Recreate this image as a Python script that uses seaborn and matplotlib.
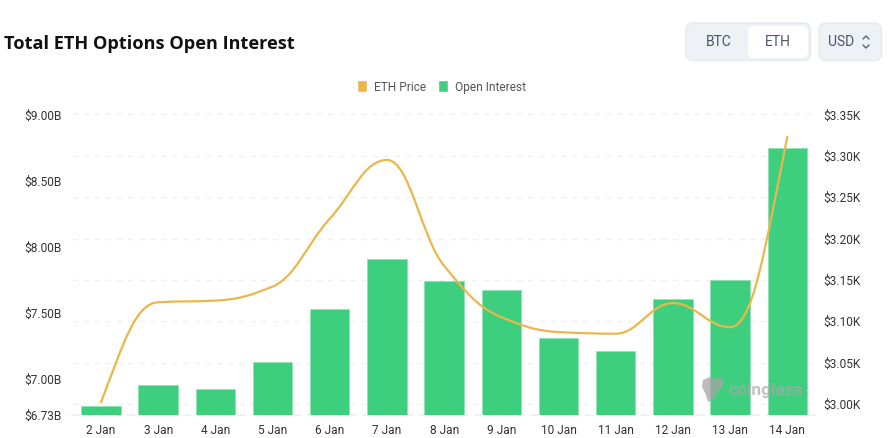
import numpy as np
import pandas as pd
import matplotlib
matplotlib.use("Agg")
import matplotlib.pyplot as plt
import seaborn as sns
from matplotlib.lines import Line2D
from matplotlib.patches import FancyBboxPatch, PathPatch, Patch, Polygon
from matplotlib.path import Path
from matplotlib.transforms import Affine2D, ScaledTranslation

dates = ["2 Jan", "3 Jan", "4 Jan", "5 Jan", "6 Jan", "7 Jan", "8 Jan",
         "9 Jan", "10 Jan", "11 Jan", "12 Jan", "13 Jan", "14 Jan"]
open_interest = [6.798, 6.957, 6.926, 7.127, 7.534, 7.908, 7.746,
                 7.674, 7.312, 7.217, 7.610, 7.753, 8.747]
eth_price = [3.002, 3.123, 3.125, 3.142, 3.224, 3.295, 3.167,
             3.105, 3.087, 3.085, 3.122, 3.093, 3.323]
left_ticks = [6.73, 7.0, 7.5, 8.0, 8.5, 9.0]
left_labels = ["$6.73B", "$7.00B", "$7.50B", "$8.00B", "$8.50B", "$9.00B"]
right_ticks = [3.00, 3.05, 3.10, 3.15, 3.20, 3.25, 3.30, 3.35]
right_labels = ["$3.00K", "$3.05K", "$3.10K", "$3.15K", "$3.20K", "$3.25K", "$3.30K", "$3.35K"]

GREEN = "#3ecf7e"
GOLD = "#ebb64b"
GRID = "#f0f0f0"
W, H = 889, 439

sns.set_theme(style="white")
plt.rcParams["font.family"] = ["Roboto", "DejaVu Sans"]

fig = plt.figure(figsize=(W / 100, H / 100), dpi=100)
ax = fig.add_axes([72.4 / W, (H - 416) / H, 743.5 / W, 300.5 / H])

df = pd.DataFrame({"date": dates, "oi": open_interest})
sns.barplot(data=df, x="date", y="oi", color=GREEN, saturation=1, width=0.69,
            edgecolor="#8fe3b4", linewidth=0.6, ax=ax, zorder=3)
ax.set_xlim(-0.5, 12.5)
ax.set_ylim(6.73, 9.0)
ax.set_xlabel("")
ax.set_ylabel("")
ax.set_yticks(left_ticks)
ax.set_yticklabels(left_labels)

ax2 = ax.twinx()
ax2.set_ylim(2.9867, 3.35)
ax2.set_yticks(right_ticks)
ax2.set_yticklabels(right_labels)
ax2.grid(False)

# grid belongs to the right axis but has to sit behind the bars
r0, r1 = ax2.get_ylim()
ax.yaxis.remove_overlapping_locs = False
ax.set_yticks([6.73 + (t - r0) / (r1 - r0) * 2.27 for t in right_ticks[:-1]], minor=True)
ax.grid(False)
ax.grid(True, axis="y", which="minor", color=GRID, linewidth=1, linestyle=(0, (4, 4)), zorder=0)
ax.axhline(9.0, color=GRID, linewidth=1, linestyle=(0, (4, 4)), clip_on=False, zorder=0)
ax.set_axisbelow(True)

for a in (ax, ax2):
    for s in a.spines.values():
        s.set_visible(False)
ax.spines["bottom"].set_visible(True)
ax.spines["bottom"].set_color(GRID)
ax.spines["bottom"].set_linestyle((0, (4, 4)))

ax.tick_params(axis="y", which="both", length=0, pad=8, labelsize=8.6, labelcolor="#333333")
ax.tick_params(axis="x", length=0, pad=6, labelsize=8.6, labelcolor="#333333")
ax2.tick_params(axis="y", length=0, pad=5.5, labelsize=8.6, labelcolor="#333333")

# labels sit a pixel higher than matplotlib centres them
up = ScaledTranslation(0, 1 / 100, fig.dpi_scale_trans)
for label in ax.get_yticklabels() + ax2.get_yticklabels():
    label.set_transform(label.get_transform() + up)

# monotone smooth curve through the daily prices, bezier segments
xs = np.arange(len(eth_price))
ys = np.array(eth_price)
d = np.diff(ys)
m = np.zeros(len(ys))
for i in range(1, len(ys) - 1):
    if d[i - 1] * d[i] > 0:
        m[i] = 2 * d[i - 1] * d[i] / (d[i - 1] + d[i])
m[0] = d[0] * 1.5
m[-1] = d[-1] * 1.5
verts = [(xs[0], ys[0])]
codes = [Path.MOVETO]
for i in range(len(ys) - 1):
    verts += [(xs[i] + 0.4, ys[i] + m[i] * 0.4),
              (xs[i + 1] - 0.4, ys[i + 1] - m[i + 1] * 0.4),
              (xs[i + 1], ys[i + 1])]
    codes += [Path.CURVE4] * 3
ax2.add_patch(PathPatch(Path(verts, codes), fill=False, edgecolor=GOLD, linewidth=1.6,
                        capstyle="round", zorder=5))

handles = [Patch(facecolor=GOLD, label="ETH Price"), Patch(facecolor=GREEN, label="Open Interest")]
fig.legend(handles=handles, loc="center", bbox_to_anchor=(441.5 / W, 1 - 87.5 / H), ncol=2, frameon=False,
           fontsize=8.6, labelcolor="#555555", handlelength=0.85, handleheight=1.2,
           handletextpad=0.55, columnspacing=1.0)

# everything outside the plot is placed in screen pixels, y down
px = Affine2D().scale(1 / W, -1 / H).translate(0, 1) + fig.transFigure

fig.text(4 / W, 1 - 44 / H, "Total ETH Options Open Interest", fontsize=13.1, fontweight="bold",
         family="Open Sans", color="#111111", va="center")


def box(x0, y0, x1, y1, color, edge="none", r=7):
    fig.add_artist(FancyBboxPatch((x0, y0), x1 - x0, y1 - y0, boxstyle=f"round,pad=0,rounding_size={r}",
                                  facecolor=color, edgecolor=edge, linewidth=1, transform=px))


box(686, 24, 810.5, 61.5, "#eef1f5", "#e6e9ee")
box(748, 27, 808, 59, "#ffffff", r=6)
box(819, 24, 881.5, 61.5, "#eef1f5", "#e6e9ee")
for x, label in [(718.5, "BTC"), (778, "ETH"), (841, "USD")]:
    fig.text(x / W, 1 - 42.5 / H, label, fontsize=10, color="#4a5568", ha="center", va="center")
for pts in ([(863, 40), (866, 37), (869, 40)], [(863, 46), (866, 49), (869, 46)]):
    fig.add_artist(Line2D([p[0] for p in pts], [p[1] for p in pts], color="#5a6472", linewidth=1, transform=px))

# coinglass watermark
fig.text(766 / W, 1 - 391 / H, "coinglass", fontsize=12.5, fontweight="bold", color="#a8a8a8", alpha=0.7,
         ha="center", va="center", zorder=10)
fig.add_artist(Polygon([(703, 381), (710, 378), (715, 380), (720, 378), (724, 381), (722, 389), (717, 393),
                        (714, 400), (708, 403), (706, 396), (702, 388)], closed=True, facecolor="#a5a5a5",
                       alpha=0.75, edgecolor="none", transform=px, zorder=10))

fig.savefig("out.png", dpi=100)
